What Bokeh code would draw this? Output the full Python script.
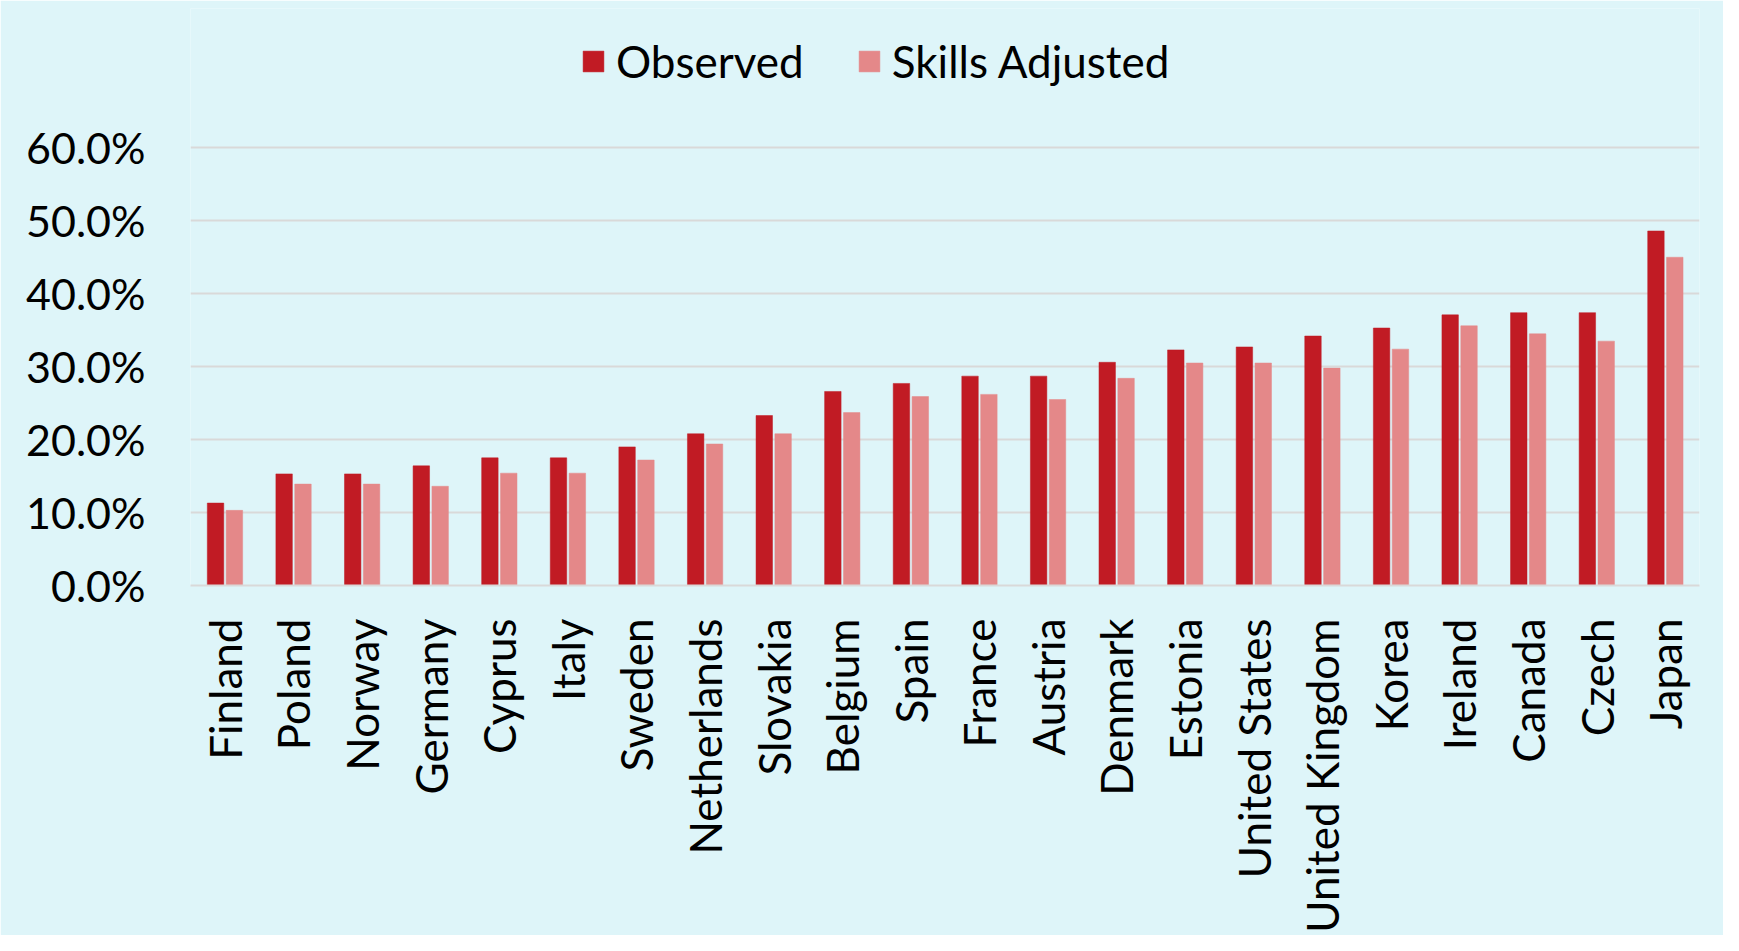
from bokeh.plotting import figure
from bokeh.models import (ColumnDataSource, FactorRange, Range1d, FixedTicker,
                          NumeralTickFormatter, Legend, LegendItem, BoxAnnotation)
from bokeh.transform import dodge
from bokeh.embed import file_html
from bokeh.resources import INLINE
import math

countries = ["Finland", "Poland", "Norway", "Germany", "Cyprus", "Italy", "Sweden",
             "Netherlands", "Slovakia", "Belgium", "Spain", "France", "Austria",
             "Denmark", "Estonia", "United States", "United Kingdom", "Korea",
             "Ireland", "Canada", "Czech", "Japan"]
observed = [0.113, 0.153, 0.153, 0.164, 0.175, 0.175, 0.190, 0.208, 0.233, 0.266,
            0.277, 0.287, 0.287, 0.306, 0.323, 0.327, 0.342, 0.353, 0.371, 0.374,
            0.374, 0.486]
skills_adjusted = [0.103, 0.139, 0.139, 0.136, 0.154, 0.154, 0.172, 0.194, 0.208,
                   0.237, 0.259, 0.262, 0.255, 0.284, 0.305, 0.305, 0.298, 0.324,
                   0.356, 0.345, 0.335, 0.450]
y_ticks = [0.0, 0.1, 0.2, 0.3, 0.4, 0.5, 0.6]

FONT = "Lato"
BG = "#DEF5F9"
GRID = "#D9D9D9"
OBS_C = "#C11B24"
ADJ_C = "#E48889"

src = ColumnDataSource(dict(country=countries, obs=observed, adj=skills_adjusted))

W, H = 1723, 935
p = figure(width=W, height=H, output_backend="svg", toolbar_location=None,
           x_range=FactorRange(factors=countries, range_padding=0),
           y_range=Range1d(0, 0.791),
           min_border_left=190, min_border_right=24, min_border_top=8,
           min_border_bottom=338)
p.background_fill_color = BG
p.border_fill_color = BG
p.outline_line_color = None

r1 = p.vbar(x=dodge("country", -0.135, range=p.x_range), top="obs", width=0.24,
            source=src, fill_color=OBS_C, line_color=OBS_C, line_width=0.5)
r2 = p.vbar(x=dodge("country", 0.14, range=p.x_range), top="adj", width=0.24,
            source=src, fill_color=ADJ_C, line_color=ADJ_C, line_width=0.5)

# axes
p.yaxis.ticker = FixedTicker(ticks=y_ticks)
p.yaxis.formatter = NumeralTickFormatter(format="0.0%")
p.yaxis.axis_line_color = None
p.yaxis.major_tick_line_color = None
p.yaxis.minor_tick_line_color = None
p.yaxis.major_label_text_font = FONT
p.yaxis.major_label_text_font_size = "43px"
p.yaxis.major_label_text_color = "#000000"
p.yaxis.major_label_standoff = 39

p.xaxis.axis_line_color = GRID
p.xaxis.axis_line_width = 2
p.xaxis.major_tick_line_color = None
p.xaxis.minor_tick_line_color = None
p.xaxis.major_label_orientation = math.pi / 2
p.xaxis.major_label_text_font = FONT
p.xaxis.major_label_text_font_size = "44px"
p.xaxis.major_label_text_color = "#000000"
p.xaxis.major_label_standoff = 27

p.xgrid.grid_line_color = None
p.ygrid.ticker = FixedTicker(ticks=y_ticks)
p.ygrid.grid_line_color = GRID
p.ygrid.grid_line_width = 2

legend = Legend(items=[LegendItem(label="Observed", renderers=[r1]),
                       LegendItem(label="Skills Adjusted", renderers=[r2])],
                orientation="horizontal", location=(390, 498),
                label_text_font=FONT, label_text_font_size="44px",
                label_text_color="#000000", glyph_width=26, glyph_height=26,
                label_standoff=10, spacing=52, padding=0, margin=0,
                background_fill_alpha=0, border_line_alpha=0)
p.add_layout(legend, "center")

border = BoxAnnotation(left=3, right=W - 2, top=1, bottom=H - 2,
                       left_units="canvas", right_units="canvas",
                       top_units="canvas", bottom_units="canvas",
                       fill_alpha=0, line_color=GRID, line_width=2)
p.add_layout(border)

open("out.html", "w").write(file_html(p, INLINE))
